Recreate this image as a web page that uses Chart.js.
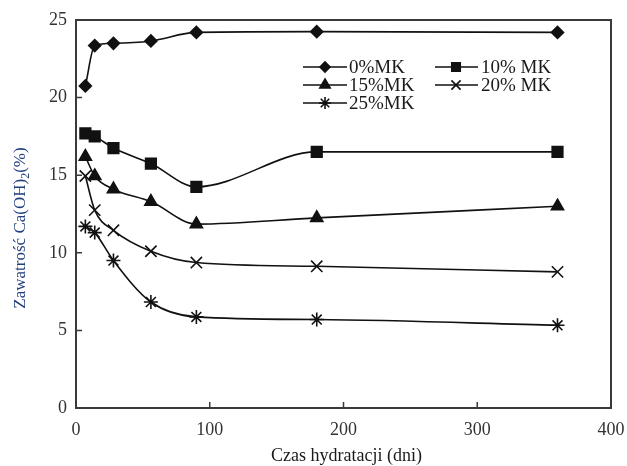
<!DOCTYPE html>
<html>
<head>
<meta charset="utf-8">
<script src="https://cdn.jsdelivr.net/npm/chart.js@4/dist/chart.umd.min.js"></script>
<style>
  html, body { margin: 0; padding: 0; background: #fff; }
  #wrap { width: 627px; height: 466px; position: relative; }
</style>
</head>
<body>
<div id="wrap"><canvas id="c" width="627" height="466"></canvas></div>
<script>
// ---- Data ----
const days = [7, 14, 28, 56, 90, 180, 360];
const seriesNames = ['0%MK', '10% MK', '15%MK', '20% MK', '25%MK'];
const mk0  = [20.75, 23.35, 23.5, 23.65, 24.2, 24.25, 24.2];
const mk10 = [17.7, 17.5, 16.75, 15.75, 14.25, 16.5, 16.5];
const mk15 = [16.2, 14.95, 14.1, 13.3, 11.85, 12.25, 13.0];
const mk20 = [14.95, 12.75, 11.45, 10.1, 9.37, 9.13, 8.77];
const mk25 = [11.7, 11.3, 9.5, 6.83, 5.87, 5.7, 5.33];
const xTicks = [0, 100, 200, 300, 400];
const yTicks = [0, 5, 10, 15, 20, 25];
const xTitle = 'Czas hydratacji (dni)';
const yTitleMain = 'Zawatrość Ca(OH)';
const yTitleSub = '2';
const yTitleEnd = '(%)';

const seriesValues = [mk0, mk10, mk15, mk20, mk25];
const styles = [
  { pointStyle: 'rectRot', radius: 6, legendRadius: 5 },
  { pointStyle: 'rect', radius: 7.5, legendRadius: 6 },
  { pointStyle: 'triangle', radius: 7, legendRadius: 6 },
  { pointStyle: 'crossRot', radius: 8, legendRadius: 6.5 },
  { pointStyle: 'star', radius: 7, legendRadius: 6 }
];
const FONT = "'Liberation Serif', 'Times New Roman', serif";
const INK = '#111';

const datasets = seriesNames.map((name, i) => ({
  label: name,
  data: days.map((d, j) => ({ x: d, y: seriesValues[i][j] })),
  borderColor: INK,
  backgroundColor: INK,
  borderWidth: 1.6,
  pointStyle: styles[i].pointStyle,
  pointRadius: styles[i].radius,
  pointBackgroundColor: INK,
  pointBorderColor: INK,
  pointBorderWidth: 1.6,
  cubicInterpolationMode: 'monotone',
  fill: false
}));

function drawMarker(ctx, style, r, x, y) {
  if (Chart.helpers && Chart.helpers.drawPoint) {
    ctx.save();
    ctx.fillStyle = INK; ctx.strokeStyle = INK; ctx.lineWidth = 1.6;
    Chart.helpers.drawPoint(ctx, { pointStyle: style, radius: r, rotation: 0, borderWidth: 1.6 }, x, y);
    ctx.restore();
  }
}

const framePlugin = {
  id: 'frame',
  afterDraw(chart) {
    const { ctx, chartArea: a, scales } = chart;
    ctx.save();
    // box
    ctx.strokeStyle = '#3a3a3a';
    ctx.lineWidth = 2;
    ctx.strokeRect(a.left, a.top, a.right - a.left, a.bottom - a.top);
    // inward ticks
    ctx.lineWidth = 1.5;
    ctx.beginPath();
    xTicks.forEach(v => {
      const px = scales.x.getPixelForValue(v);
      ctx.moveTo(px, a.bottom); ctx.lineTo(px, a.bottom - 6);
    });
    yTicks.forEach(v => {
      const py = scales.y.getPixelForValue(v);
      ctx.moveTo(a.left, py); ctx.lineTo(a.left + 6, py);
    });
    ctx.stroke();

    // x title
    ctx.fillStyle = '#1a1a1a';
    ctx.font = '18px ' + FONT;
    ctx.textAlign = 'center';
    ctx.textBaseline = 'middle';
    ctx.fillText(xTitle, (a.left + a.right) / 2 + 3, 456);

    // y title (rotated, with subscript)
    ctx.save();
    ctx.translate(21, 228);
    ctx.rotate(-Math.PI / 2);
    ctx.fillStyle = '#22407e';
    ctx.textAlign = 'left';
    ctx.textBaseline = 'middle';
    ctx.font = '17px ' + FONT;
    const w1 = ctx.measureText(yTitleMain).width;
    ctx.font = '12px ' + FONT;
    const w2 = ctx.measureText(yTitleSub).width;
    ctx.font = '17px ' + FONT;
    const w3 = ctx.measureText(yTitleEnd).width;
    let x0 = -(w1 + w2 + w3) / 2;
    ctx.fillText(yTitleMain, x0, 0);
    ctx.font = '12px ' + FONT;
    ctx.fillText(yTitleSub, x0 + w1, 5);
    ctx.font = '17px ' + FONT;
    ctx.fillText(yTitleEnd, x0 + w1 + w2, 0);
    ctx.restore();

    // legend
    const cols = [{ l: 303, r: 347, m: 325, t: 349 }, { l: 435, r: 478, m: 456, t: 481 }];
    const rows = [67, 85, 103];
    ctx.font = '19px ' + FONT;
    ctx.textAlign = 'left';
    ctx.textBaseline = 'middle';
    seriesNames.forEach((name, i) => {
      const c = cols[i % 2];
      const y = rows[Math.floor(i / 2)];
      ctx.strokeStyle = INK;
      ctx.lineWidth = 1.6;
      ctx.beginPath();
      ctx.moveTo(c.l, y); ctx.lineTo(c.r, y);
      ctx.stroke();
      drawMarker(ctx, styles[i].pointStyle, styles[i].legendRadius, c.m, y);
      ctx.fillStyle = '#1a1a1a';
      ctx.fillText(name, c.t, y + 1);
    });
    ctx.restore();
  }
};

new Chart(document.getElementById('c'), {
  type: 'line',
  data: { datasets },
  plugins: [framePlugin],
  options: {
    responsive: false,
    animation: false,
    clip: false,
    layout: { padding: { top: 20, right: 16, left: 0, bottom: 0 } },
    plugins: { legend: { display: false }, tooltip: { enabled: false } },
    scales: {
      x: {
        type: 'linear', min: 0, max: 400,
        afterBuildTicks: s => { s.ticks = xTicks.map(v => ({ value: v })); },
        afterFit: s => { s.height = 58; s.paddingLeft = 0; s.paddingRight = 0; },
        grid: { display: false, drawTicks: false },
        border: { display: false },
        ticks: { font: { family: FONT, size: 18 }, color: '#333', padding: 11, maxRotation: 0 }
      },
      y: {
        type: 'linear', min: 0, max: 25,
        afterBuildTicks: s => { s.ticks = yTicks.map(v => ({ value: v })); },
        afterFit: s => { s.width = 76; s.paddingTop = 0; s.paddingBottom = 0; },
        grid: { display: false, drawTicks: false },
        border: { display: false },
        ticks: { font: { family: FONT, size: 18 }, color: '#333', padding: 9 }
      }
    }
  }
});
</script>
</body>
</html>
